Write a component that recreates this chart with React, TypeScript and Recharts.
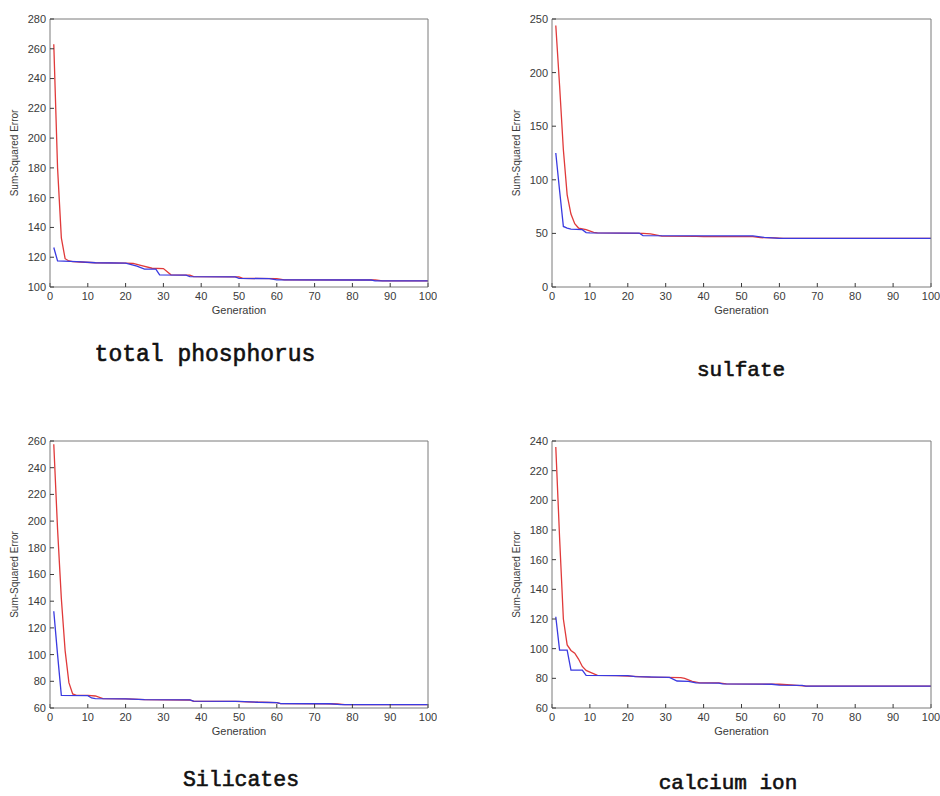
import React from "react";
import { LineChart, Line, XAxis, YAxis, Label } from "recharts";

// [generation, sum-squared error]
const phosphorusRed: [number, number][] = [
  [1, 263], [2, 180], [3, 133], [4, 119], [5, 117.5], [6, 117], [8, 116.8], [12, 116.3],
  [20, 116], [22, 115.8], [24, 114.5], [27, 112.6], [30, 112.4], [32, 108.2], [37, 108],
  [38, 107], [50, 106.8], [51, 105.8], [60, 105.6], [62, 104.8], [86, 104.7], [88, 104.1],
  [100, 104.1],
];
const phosphorusBlue: [number, number][] = [
  [1, 126.5], [2, 117.5], [7, 117], [12, 116.3], [20, 116], [23, 114], [25, 112], [28, 112],
  [29, 108.2], [36, 108], [37, 107], [49, 106.8], [50, 105.8], [58, 105.6], [60, 104.8],
  [85, 104.7], [86, 104.1], [100, 104.1],
];

const sulfateRed: [number, number][] = [
  [1, 244], [2, 188], [3, 128], [4, 86], [5, 68], [6, 59], [7, 55], [9, 53.5], [11, 51],
  [12, 50.5], [24, 50], [26, 49.5], [29, 47.5], [38, 47.3], [40, 47], [53, 47], [55, 46],
  [59, 45.8], [61, 45.3], [100, 45.3],
];
const sulfateBlue: [number, number][] = [
  [1, 125], [2, 90], [3, 56.5], [4, 55], [5, 54], [8, 53.5], [9, 50.8], [10, 50.4],
  [23, 50.3], [24, 47.9], [53, 47.7], [56, 46.3], [60, 45.4], [100, 45.4],
];

const silicatesRed: [number, number][] = [
  [1, 257.5], [2, 194], [3, 142], [4, 103], [5, 79], [6, 70.5], [7, 69.5], [10, 69.5],
  [12, 69], [14, 67], [20, 66.9], [22, 66.7], [25, 66.2], [37, 66], [38, 65], [49, 64.9],
  [52, 64.6], [56, 64.3], [60, 64], [61, 63.3], [73, 63.2], [76, 63], [78, 62.5], [100, 62.5],
];
const silicatesBlue: [number, number][] = [
  [1, 132.5], [2, 100], [3, 69.5], [10, 69.3], [11, 67.5], [12, 67], [20, 66.9], [25, 66.3],
  [37, 66.1], [38, 65.1], [50, 64.9], [55, 64.3], [60, 64.1], [61, 63.3], [74, 63.2],
  [77, 62.6], [100, 62.5],
];

const calciumRed: [number, number][] = [
  [1, 236], [2, 175], [3, 120], [4, 102.5], [5, 98.8], [6, 97], [7, 93], [8, 88], [9, 85.3],
  [10, 84.2], [12, 82], [17, 81.8], [20, 81.5], [26, 80.8], [30, 80.6], [34, 80.5], [35, 80],
  [37, 78], [39, 77], [44, 76.9], [46, 76.2], [60, 76], [63, 75.6], [67, 74.8], [100, 74.8],
];
const calciumBlue: [number, number][] = [
  [1, 121.5], [2, 99], [4, 99], [5, 85.5], [8, 85.5], [9, 82], [20, 81.8], [22, 81.2],
  [31, 80.7], [33, 78.2], [36, 78], [38, 76.9], [44, 76.8], [45, 76.2], [58, 76], [60, 75.4],
  [66, 75.2], [67, 74.8], [100, 74.8],
];

const generationTicks = [0, 10, 20, 30, 40, 50, 60, 70, 80, 90, 100];
const phosphorusTicks = [100, 120, 140, 160, 180, 200, 220, 240, 260, 280];
const sulfateTicks = [0, 50, 100, 150, 200, 250];
const silicatesTicks = [60, 80, 100, 120, 140, 160, 180, 200, 220, 240, 260];
const calciumTicks = [60, 80, 100, 120, 140, 160, 180, 200, 220, 240];

const RED = "#e03a3a";
const BLUE = "#3a3ae0";
const FRAME = "#7a7a7a";
const TEXT = "#3a3a3a";

const toRows = (pts: [number, number][]) => pts.map(([gen, err]) => ({ gen, err }));

type PanelProps = {
  boxLeft: number;
  boxTop: number;
  boxW: number;
  boxH: number;
  yTicks: number[];
  red: [number, number][];
  blue: [number, number][];
};

function Panel({ boxLeft, boxTop, boxW, boxH, yTicks, red, blue }: PanelProps) {
  const padR = 8; // + 1px for the right (tick-only) axis
  const yDomain = [yTicks[0], yTicks[yTicks.length - 1]];
  const tickStyle = { fontSize: 11, fill: TEXT };
  return (
    <div style={{ position: "absolute", left: boxLeft - 50, top: boxTop - 19 }}>
      <LineChart
        width={50 + boxW + 1 + padR}
        height={19 + boxH + 44}
        margin={{ top: 18, right: padR, left: 0, bottom: 0 }}
      >
        <XAxis
          dataKey="gen"
          type="number"
          domain={[0, 100]}
          ticks={generationTicks}
          height={44}
          tick={tickStyle}
          tickSize={-4}
          tickMargin={9}
          stroke={FRAME}
          tickLine={{ stroke: TEXT }}
          interval={0}
        >
          <Label value="Generation" position="insideTop" offset={19} style={{ fontSize: 11, fill: TEXT }} />
        </XAxis>
        {/* MATLAB-style box: tick marks on top and right too */}
        <XAxis
          xAxisId="top"
          orientation="top"
          type="number"
          domain={[0, 100]}
          allowDataOverflow
          ticks={generationTicks}
          height={1}
          tick={false}
          tickSize={-4}
          stroke={FRAME}
          tickLine={{ stroke: TEXT }}
          interval={0}
        />
        <YAxis
          type="number"
          domain={yDomain}
          ticks={yTicks}
          width={50}
          tick={tickStyle}
          tickSize={-4}
          tickMargin={8}
          stroke={FRAME}
          tickLine={{ stroke: TEXT }}
          interval={0}
        >
          <Label
            value="Sum-Squared Error"
            angle={-90}
            position="insideLeft"
            offset={14}
            style={{ fontSize: 10, fill: TEXT, textAnchor: "middle" }}
          />
        </YAxis>
        <YAxis
          yAxisId="right"
          orientation="right"
          type="number"
          domain={yDomain}
          allowDataOverflow
          ticks={yTicks}
          width={1}
          tick={false}
          tickSize={-4}
          stroke={FRAME}
          tickLine={{ stroke: TEXT }}
          interval={0}
        />
        <Line
          data={toRows(red)}
          dataKey="err"
          stroke={RED}
          strokeWidth={1.3}
          dot={false}
          isAnimationActive={false}
        />
        <Line
          data={toRows(blue)}
          dataKey="err"
          stroke={BLUE}
          strokeWidth={1.3}
          dot={false}
          isAnimationActive={false}
        />
      </LineChart>
    </div>
  );
}

const titleFont = {
  fontFamily: "'Liberation Mono', 'DejaVu Sans Mono', monospace",
  fill: "#111",
  stroke: "#111",
  strokeWidth: 0.6,
};

export default function App() {
  return (
    <div
      style={{
        position: "absolute",
        left: 0,
        top: 0,
        width: 940,
        height: 796,
        background: "#fff",
        overflow: "hidden",
        fontFamily: "'Liberation Sans', Arial, sans-serif",
      }}
    >
      <style>{`body{margin:0;overflow:hidden}`}</style>
      <Panel boxLeft={50} boxTop={19} boxW={378} boxH={268} yTicks={phosphorusTicks} red={phosphorusRed} blue={phosphorusBlue} />
      <Panel boxLeft={552} boxTop={19} boxW={379} boxH={268} yTicks={sulfateTicks} red={sulfateRed} blue={sulfateBlue} />
      <Panel boxLeft={50} boxTop={441} boxW={378} boxH={267} yTicks={silicatesTicks} red={silicatesRed} blue={silicatesBlue} />
      <Panel boxLeft={552} boxTop={441} boxW={379} boxH={267} yTicks={calciumTicks} red={calciumRed} blue={calciumBlue} />

      {/* panel captions */}
      <svg width={940} height={796} style={{ position: "absolute", left: 0, top: 0, pointerEvents: "none" }}>
        <text x={205} y={361} textAnchor="middle" fontSize={23} style={titleFont}>total phosphorus</text>
        <text x={741} y={376} textAnchor="middle" fontSize={21} style={titleFont}>sulfate</text>
        <text x={241} y={786} textAnchor="middle" fontSize={21.5} style={titleFont}>Silicates</text>
        <text x={728} y={789} textAnchor="middle" fontSize={21} style={titleFont}>calcium ion</text>
      </svg>
    </div>
  );
}
